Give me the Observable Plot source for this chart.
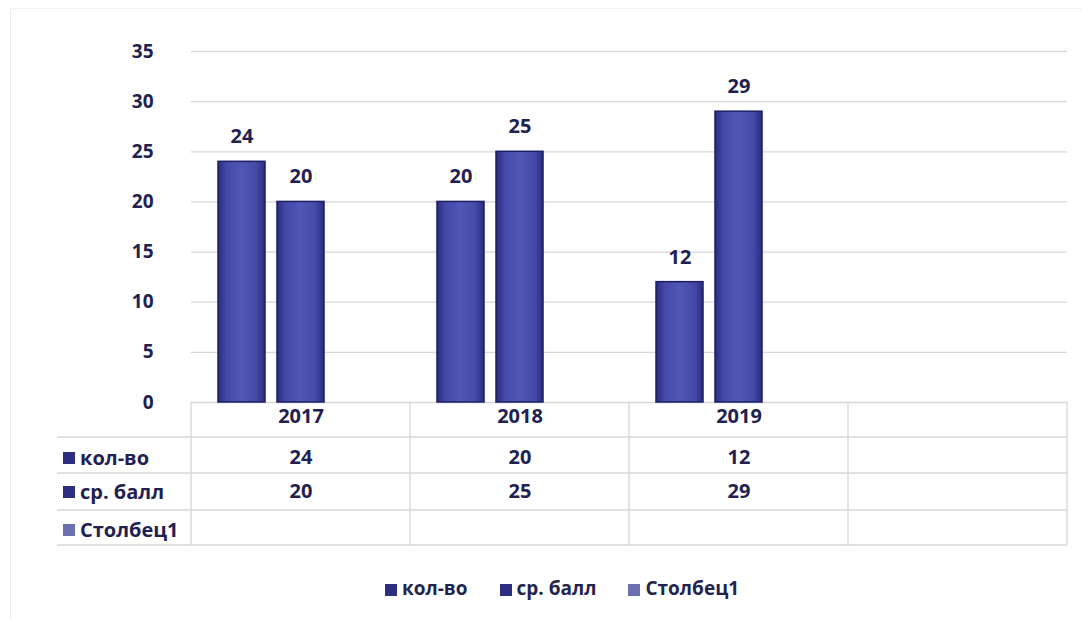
<!DOCTYPE html>
<html>
<head>
<meta charset="utf-8">
<script src="https://cdn.jsdelivr.net/npm/d3@7"></script>
<script src="https://cdn.jsdelivr.net/npm/@observablehq/plot@0.6"></script>
<style>
  html, body { margin: 0; padding: 0; background: #fff; }
  body { width: 1082px; height: 621px; position: relative; overflow: hidden; font-family: "Open Sans", sans-serif; }
  #frame { position: absolute; left: 10px; top: 8px; width: 1080px; height: 610px; border-left: 1px solid #ececf0; border-top: 1px solid #f4f4f6; }
  #chart { position: absolute; left: 0; top: 0; }
  #legend { position: absolute; left: 0; width: 1082px; top: 575px; text-align: center; font-weight: 700; font-size: 19px; color: #22244f; padding-left: 42px; box-sizing: border-box; }
  #legend span.item { margin: 0 16px; white-space: nowrap; }
  #legend span.sw { display: inline-block; width: 12px; height: 12px; margin-right: 5px; vertical-align: -1px; }
</style>
</head>
<body>
<div id="frame"></div>
<div id="chart"></div>
<div id="legend"></div>
<script>
const years = ["2017", "2018", "2019", " "];
const series = ["кол-во", "ср. балл", "Столбец1"];
const kolvo = [24, 20, 12];
const srBall = [20, 25, 29];
const yTicks = [0, 5, 10, 15, 20, 25, 30, 35];
const swatchColors = ["#2c2f80", "#2c2f80", "#6d70b0"];

const data = [];
years.slice(0, 3).forEach((y, i) => {
  data.push({year: y, series: series[0], value: kolvo[i]});
  data.push({year: y, series: series[1], value: srBall[i]});
});
const tableRows = [
  {label: series[0], values: kolvo},
  {label: series[1], values: srBall},
  {label: series[2], values: []}
];

const ink = "#1f2152";
const FS = 20;
const W = 1082, H = 560;
const chart = Plot.plot({
  width: W,
  height: H,
  marginTop: 51,
  marginBottom: H - 402,
  marginLeft: 190,
  marginRight: 14,
  style: {fontFamily: "Open Sans, sans-serif", fontWeight: 700, fontSize: FS + "px", color: ink, background: "transparent"},
  fx: {domain: years, padding: 0, label: null},
  x: {domain: series, paddingInner: 0.2, paddingOuter: 0.43, axis: null},
  y: {domain: [0, 35], ticks: yTicks, label: null},
  marks: [
    Plot.gridY(yTicks, {stroke: "#d6d6dc", strokeOpacity: 1, strokeWidth: 1.3}),
    Plot.axisY(yTicks, {tickSize: 0, tickPadding: 38, fontSize: 19, fontWeight: 700, fill: ink}),
    Plot.axisFx({anchor: "bottom", tickSize: 0, tickPadding: 6, fontSize: FS, fontWeight: 700, fill: ink, label: null}),
    Plot.barY(data, {fx: "year", x: "series", y: "value", fill: "url(#barGrad)", stroke: "#1d1f63", strokeWidth: 1.5}),
    Plot.text(data, {fx: "year", x: "series", y: "value", text: d => String(d.value), dy: -25, fontSize: FS, fontWeight: 700, fill: ink}),
    Plot.text(years, {fx: d => d, text: (d, i) => (kolvo[i] === undefined ? "" : String(kolvo[i])), frameAnchor: "bottom", dy: 61, fontSize: FS, fontWeight: 700, fill: ink}),
    Plot.text(years, {fx: d => d, text: (d, i) => (srBall[i] === undefined ? "" : String(srBall[i])), frameAnchor: "bottom", dy: 95, fontSize: FS, fontWeight: 700, fill: ink})
  ]
});
document.getElementById("chart").appendChild(chart);

const svg = d3.select(chart);
const defs = svg.insert("defs", ":first-child");
const g = defs.append("linearGradient").attr("id", "barGrad").attr("x1", 0).attr("x2", 1).attr("y1", 0).attr("y2", 0);
g.append("stop").attr("offset", "0%").attr("stop-color", "#2a2c7c");
g.append("stop").attr("offset", "18%").attr("stop-color", "#4549a6");
g.append("stop").attr("offset", "50%").attr("stop-color", "#5256b4");
g.append("stop").attr("offset", "82%").attr("stop-color", "#4549a6");
g.append("stop").attr("offset", "100%").attr("stop-color", "#2a2c7c");

// data table grid using the fx scale
const fx = chart.scale("fx");
const y0 = 402;
const rowLines = [437, 473, 510, 545];
const left = 57;
const right = fx.apply(years[years.length - 1]) + fx.bandwidth;
const tg = svg.append("g").attr("stroke", "#d6d6dc").attr("stroke-width", 1.3);
rowLines.forEach(yy => tg.append("line").attr("x1", left).attr("x2", right).attr("y1", yy).attr("y2", yy));
years.forEach(yr => {
  const xx = fx.apply(yr);
  tg.append("line").attr("x1", xx).attr("x2", xx).attr("y1", y0).attr("y2", rowLines[3]);
});
tg.append("line").attr("x1", right).attr("x2", right).attr("y1", y0).attr("y2", rowLines[3]);

const rowCenters = [458, 492, 530];
const lg = svg.append("g").attr("font-family", "Open Sans, sans-serif").attr("font-weight", 700).attr("font-size", FS).attr("fill", ink).attr("text-anchor", "start");
tableRows.forEach((r, i) => {
  lg.append("rect").attr("x", 63).attr("y", rowCenters[i] - 6).attr("width", 12).attr("height", 12).attr("fill", swatchColors[i]);
  lg.append("text").attr("x", 80).attr("y", rowCenters[i]).attr("dy", "0.35em").text(r.label);
});

const legend = d3.select("#legend");
series.forEach((s, i) => {
  const it = legend.append("span").attr("class", "item");
  it.append("span").attr("class", "sw").style("background", swatchColors[i]);
  it.append("span").text(s);
});
</script>
</body>
</html>
